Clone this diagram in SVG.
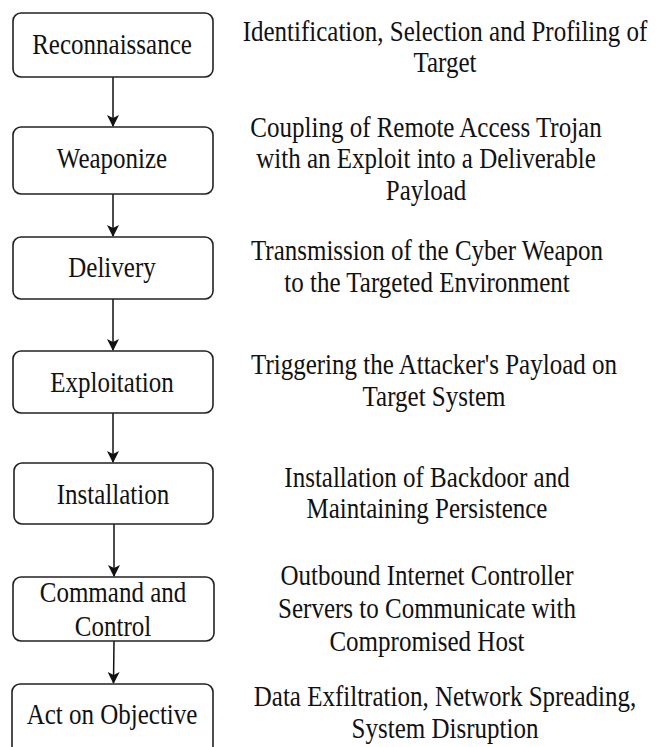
<svg xmlns="http://www.w3.org/2000/svg" width="657" height="747" viewBox="0 0 657 747">
<defs>
<style>
.box{fill:#fff;stroke:#222;stroke-width:1.6}
.lbl{font-family:'Liberation Serif','Times New Roman',serif;font-size:25px;fill:#111;text-anchor:middle}
.edge{stroke:#111;stroke-width:1.5;fill:none}
</style>
<marker id="arr" viewBox="0 0 12 12" refX="11" refY="6" markerWidth="12" markerHeight="12" markerUnits="userSpaceOnUse" orient="auto">
<path d="M0,0 L12,6 L0,12 L3,6 z" fill="#111"/>
</marker>
</defs>
<rect width="657" height="747" fill="#fff"/>
<g id="connectors">
<line class="edge" x1="113" y1="77" x2="113" y2="126" marker-end="url(#arr)"/>
<line class="edge" x1="113" y1="194" x2="113" y2="236" marker-end="url(#arr)"/>
<line class="edge" x1="113" y1="299" x2="113" y2="350" marker-end="url(#arr)"/>
<line class="edge" x1="113" y1="413" x2="113" y2="462" marker-end="url(#arr)"/>
<line class="edge" x1="114" y1="524" x2="114" y2="576" marker-end="url(#arr)"/>
<line class="edge" x1="114" y1="641" x2="113.5" y2="683" marker-end="url(#arr)"/>
</g>
<g id="n1">
<rect class="box" x="13" y="13" width="200" height="64" rx="8"/>
<g transform="translate(112,54) scale(1,1.15)"><text class="lbl" x="0" y="0">Reconnaissance</text></g>
</g>
<g id="n2">
<rect class="box" x="13" y="127" width="200" height="67" rx="8"/>
<g transform="translate(112,168) scale(1,1.15)"><text class="lbl" x="0" y="0">Weaponize</text></g>
</g>
<g id="n3">
<rect class="box" x="13" y="237" width="200" height="62" rx="8"/>
<g transform="translate(112,277) scale(1,1.15)"><text class="lbl" x="0" y="0">Delivery</text></g>
</g>
<g id="n4">
<rect class="box" x="13" y="351" width="200" height="62" rx="8"/>
<g transform="translate(112,392) scale(1,1.15)"><text class="lbl" x="0" y="0">Exploitation</text></g>
</g>
<g id="n5">
<rect class="box" x="14" y="463" width="199" height="61" rx="8"/>
<g transform="translate(113,504) scale(1,1.15)"><text class="lbl" x="0" y="0">Installation</text></g>
</g>
<g id="n6">
<rect class="box" x="13" y="577" width="201" height="64" rx="8"/>
<g transform="translate(113,602) scale(1,1.15)"><text class="lbl" x="0" y="0"><tspan x="0">Command and</tspan><tspan x="0" dy="29.5">Control</tspan></text></g>
</g>
<g id="n7">
<rect class="box" x="12" y="684" width="201" height="70" rx="8"/>
<g transform="translate(112,724) scale(1,1.15)"><text class="lbl" x="0" y="0">Act on Objective</text></g>
</g>
<g id="d1">
<g transform="translate(445,41) scale(1,1.15)"><text class="lbl" x="0" y="0"><tspan x="0">Identification, Selection and Profiling of</tspan><tspan x="0" dy="27.2">Target</tspan></text></g>
</g>
<g id="d2">
<g transform="translate(426,137) scale(1,1.15)"><text class="lbl" x="0" y="0"><tspan x="0">Coupling of Remote Access Trojan</tspan><tspan x="0" dy="27.2">with an Exploit into a Deliverable</tspan><tspan x="0" dy="27.2">Payload</tspan></text></g>
</g>
<g id="d3">
<g transform="translate(427,260) scale(1,1.15)"><text class="lbl" x="0" y="0"><tspan x="0">Transmission of the Cyber Weapon</tspan><tspan x="0" dy="27.8">to the Targeted Environment</tspan></text></g>
</g>
<g id="d4">
<g transform="translate(434,374) scale(1,1.15)"><text class="lbl" x="0" y="0"><tspan x="0">Triggering the Attacker's Payload on</tspan><tspan x="0" dy="27.8">Target System</tspan></text></g>
</g>
<g id="d5">
<g transform="translate(427,487) scale(1,1.15)"><text class="lbl" x="0" y="0"><tspan x="0">Installation of Backdoor and</tspan><tspan x="0" dy="27.2">Maintaining Persistence</tspan></text></g>
</g>
<g id="d6">
<g transform="translate(427,585) scale(1,1.15)"><text class="lbl" x="0" y="0"><tspan x="0">Outbound Internet Controller</tspan><tspan x="0" dy="28.5">Servers to Communicate with</tspan><tspan x="0" dy="28.5">Compromised Host</tspan></text></g>
</g>
<g id="d7">
<g transform="translate(445,706) scale(1,1.15)"><text class="lbl" x="0" y="0"><tspan x="0">Data Exfiltration, Network Spreading,</tspan><tspan x="0" dy="27.8">System Disruption</tspan></text></g>
</g>
</svg>
